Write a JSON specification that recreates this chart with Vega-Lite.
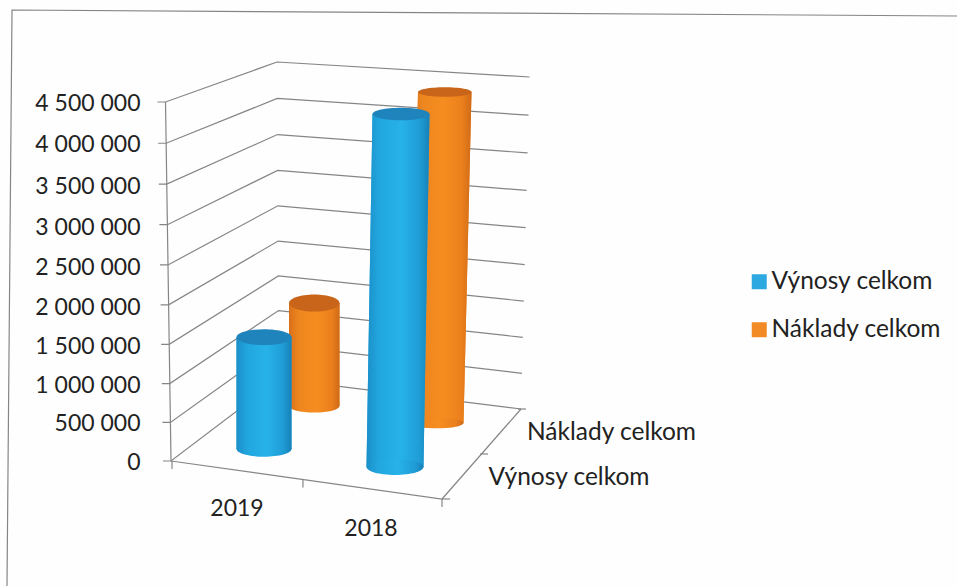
{
"$schema":"https://vega.github.io/schema/vega-lite/v6.json",
"width":957,"height":586,"autosize":"none","padding":0,"background":"#fefefe",
"config":{"view":{"stroke":null},"font":"Lato"},
"datasets":{
"bars":[
{"year":"2019","series":"Výnosy celkom","value":1430000},
{"year":"2019","series":"Náklady celkom","value":1400000},
{"year":"2018","series":"Výnosy celkom","value":4420000},
{"year":"2018","series":"Náklady celkom","value":4400000}],
"ticks":[{"tick":0},{"tick":500000},{"tick":1000000},{"tick":1500000},{"tick":2000000},{"tick":2500000},{"tick":3000000},{"tick":3500000},{"tick":4000000},{"tick":4500000}],
"edges":[
{"part":"floor","corner":"front","tick":0,"seq":0},{"part":"floor","corner":"near","tick":0,"seq":1},{"part":"floor","corner":"right","tick":0,"seq":2},
{"part":"wall axis","corner":"front","tick":0,"seq":0},{"part":"wall axis","corner":"front","tick":4500000,"seq":1},
{"part":"outer","corner":"tr","tick":0,"seq":0},{"part":"outer","corner":"tl","tick":0,"seq":1},{"part":"outer","corner":"bl","tick":0,"seq":2}],
"frontTicks":[{"u":0},{"u":0.485},{"u":1}],
"sideTicks":[{"v":0},{"v":0.5},{"v":1}]
},
"resolve":{"scale":{"x":"independent","y":"independent"},"axis":{"x":"independent","y":"independent"}},
"layer":[
{"data":{"name":"ticks"},
 "mark":{"type":"point","opacity":0},
 "encoding":{"x":{"value":150},
  "y":{"field":"tick","type":"quantitative","scale":{"domain":[0,500000,1000000,1500000,2000000,2500000,3000000,3500000,4000000,4500000],"range":[461,422,384,345,306,266,226,185,143,102]},
   "axis":{"orient":"left","offset":-150,"title":null,"domain":false,"ticks":false,"grid":false,"values":[0,500000,1000000,1500000,2000000,2500000,3000000,3500000,4000000,4500000],"labelFont":"Lato","labelFontSize":23,"labelColor":"#222222","labelPadding":10,"labelOffset":1.5,"labelOverlap":false,"labelBound":false,"labelFlush":false,"labelExpr":"replace(format(datum.value,','),/,/g,' ')","encode":{"labels":{"update":{"dx":{"signal":"(4500000-datum.value)/4500000*7"}}}}}}}},
{"transform":[
  {"calculate":"datum.tick/4500000","as":"t"},
  {"calculate":"datum.t*0.963/(1-0.037*datum.t)","as":"f"},
  {"calculate":"({front:[171,165.5,461,102],right:[521,529.5,409,77],near:[442,442,499,499],tl:[12,12,10,10],tr:[957,957,16,16],bl:[7,7,586,586]})[datum.corner]","as":"c"},
  {"calculate":"datum.c[0]+(datum.c[1]-datum.c[0])*datum.f","as":"px"},
  {"calculate":"datum.c[2]+(datum.c[3]-datum.c[2])*datum.f","as":"py"}],
 "data":{"name":"edges"},
 "encoding":{
  "x":{"field":"px","type":"quantitative","axis":null,"scale":{"domain":[0,957],"range":[0,957],"nice":false,"zero":false}},
  "y":{"field":"py","type":"quantitative","axis":null,"scale":{"domain":[0,586],"range":[0,586],"nice":false,"zero":false}},
  "detail":{"field":"part"},"order":{"field":"seq"}},
 "mark":{"type":"line","color":"#858585","strokeWidth":1.2}},
{"data":{"name":"ticks"},
 "transform":[
  {"calculate":"[0,1,2,3]","as":"seq"},{"flatten":["seq"]},
  {"calculate":"datum.tick/4500000","as":"t"},
  {"calculate":"datum.t*0.963/(1-0.037*datum.t)","as":"f"},
  {"calculate":"[[163,157.5,461,102],[171,165.5,461,102],[279,277,379,62],[521,529.5,409,77]][datum.seq]","as":"c"},
  {"calculate":"datum.c[0]+(datum.c[1]-datum.c[0])*datum.f","as":"px"},
  {"calculate":"datum.c[2]+(datum.c[3]-datum.c[2])*datum.f","as":"py"}],
 "encoding":{
  "x":{"field":"px","type":"quantitative","axis":null,"scale":{"domain":[0,957],"range":[0,957],"nice":false,"zero":false}},
  "y":{"field":"py","type":"quantitative","axis":null,"scale":{"domain":[0,586],"range":[0,586],"nice":false,"zero":false}},
  "detail":{"field":"tick"},"order":{"field":"seq"}},
 "mark":{"type":"line","color":"#858585","strokeWidth":1.2}},
{"data":{"name":"frontTicks"},
 "transform":[{"calculate":"172+270*datum.u","as":"px"},{"calculate":"461+38*datum.u","as":"py"}],
 "encoding":{
  "x":{"field":"px","type":"quantitative","axis":null,"scale":{"domain":[0,957],"range":[0,957],"nice":false,"zero":false}},
  "y":{"field":"py","type":"quantitative","axis":null,"scale":{"domain":[0,586],"range":[0,586],"nice":false,"zero":false}}},
 "mark":{"type":"point","shape":"M0,0V1","size":256,"filled":false,"stroke":"#858585","strokeWidth":1.2,"opacity":1}},
{"data":{"name":"sideTicks"},
 "transform":[{"calculate":"442+76*datum.v","as":"px"},{"calculate":"499-90*datum.v","as":"py"}],
 "encoding":{
  "x":{"field":"px","type":"quantitative","axis":null,"scale":{"domain":[0,957],"range":[0,957],"nice":false,"zero":false}},
  "y":{"field":"py","type":"quantitative","axis":null,"scale":{"domain":[0,586],"range":[0,586],"nice":false,"zero":false}}},
 "mark":{"type":"point","shape":"M0,0H1","size":256,"filled":false,"stroke":"#858585","strokeWidth":1.2,"opacity":1}},

{"data":{"name":"bars"},
 "transform":[{"filter":"datum.year=='2019' && datum.series=='Náklady celkom'"},{"calculate":"[0,datum.value]","as":"h"},{"flatten":["h"]}],
 "encoding":{
  "x":{"field":"h","type":"quantitative","axis":null,"stack":null,"scale":{"domain":[0,4500000],"range":[289,289],"nice":false,"zero":false}},
  "y":{"field":"h","type":"quantitative","axis":null,"stack":null,"scale":{"domain":[0,4500000],"range":[406,75],"nice":false,"zero":false}}},
 "layer":[
  {"mark":{"type":"area","orient":"horizontal","x2Offset":50.5},"encoding":{"x2":{"field":"h"},"color":{"field":"series","type":"nominal","scale":{"domain":["Výnosy celkom","Náklady celkom"],"range":["#2ea8e0","#f28a25"]},"legend":{"orient":"none","legendX":747,"legendY":269.5,"title":null,"symbolType":"square","symbolSize":225,"symbolOpacity":1,"symbolStrokeWidth":0,"labelFont":"Lato","labelFontSize":24.5,"labelColor":"#222222","labelOffset":0,"labelLimit":300,"rowPadding":23}}}},
  {"mark":{"type":"area","orient":"horizontal","x2Offset":50.5,"fill":{"gradient":"linear","x1":0,"y1":0,"x2":1,"y2":0,"stops":[{"offset":0,"color":"#d9701a"},{"offset":0.2,"color":"#ee861f"},{"offset":0.55,"color":"#f68d20"},{"offset":0.85,"color":"#ea7f1c"},{"offset":1,"color":"#cf6a17"}]}},"encoding":{"x2":{"field":"h"}}},
  {"transform":[{"filter":"datum.h==0"}],"mark":{"type":"point","filled":true,"opacity":1,"xOffset":25.25,"size":2550,"shape":"M-1,0A1,0.26 0 1 0 1,0A1,0.26 0 1 0 -1,0Z","fill":{"gradient":"linear","x1":0,"y1":0,"x2":1,"y2":0,"stops":[{"offset":0,"color":"#d9701a"},{"offset":0.2,"color":"#ee861f"},{"offset":0.55,"color":"#f68d20"},{"offset":0.85,"color":"#ea7f1c"},{"offset":1,"color":"#cf6a17"}]}}},
  {"transform":[{"filter":"datum.h>0"}],"mark":{"type":"point","filled":true,"opacity":1,"xOffset":25.25,"size":2550,"shape":"M-1,0A1,0.34 0 1 0 1,0A1,0.34 0 1 0 -1,0Z","fill":"#c8651a"}}
 ]},

{"data":{"name":"bars"},
 "transform":[{"filter":"datum.year=='2019' && datum.series=='Výnosy celkom'"},{"calculate":"[0,datum.value]","as":"h"},{"flatten":["h"]}],
 "encoding":{
  "x":{"field":"h","type":"quantitative","axis":null,"stack":null,"scale":{"domain":[0,4500000],"range":[236.5,236.5],"nice":false,"zero":false}},
  "y":{"field":"h","type":"quantitative","axis":null,"stack":null,"scale":{"domain":[0,4500000],"range":[449,97],"nice":false,"zero":false}}},
 "layer":[
  {"mark":{"type":"area","orient":"horizontal","x2Offset":55},"encoding":{"x2":{"field":"h"},"color":{"field":"series","type":"nominal","scale":{"domain":["Výnosy celkom","Náklady celkom"],"range":["#2ea8e0","#f28a25"]},"legend":{"orient":"none","legendX":747,"legendY":269.5,"title":null,"symbolType":"square","symbolSize":225,"symbolOpacity":1,"symbolStrokeWidth":0,"labelFont":"Lato","labelFontSize":24.5,"labelColor":"#222222","labelOffset":0,"labelLimit":300,"rowPadding":23}}}},
  {"mark":{"type":"area","orient":"horizontal","x2Offset":55,"fill":{"gradient":"linear","x1":0,"y1":0,"x2":1,"y2":0,"stops":[{"offset":0,"color":"#1b8fc8"},{"offset":0.2,"color":"#22a6de"},{"offset":0.55,"color":"#27b2ea"},{"offset":0.85,"color":"#1f9cd5"},{"offset":1,"color":"#1781b8"}]}},"encoding":{"x2":{"field":"h"}}},
  {"transform":[{"filter":"datum.h==0"}],"mark":{"type":"point","filled":true,"opacity":1,"xOffset":27.5,"size":3025,"shape":"M-1,0A1,0.28 0 1 0 1,0A1,0.28 0 1 0 -1,0Z","fill":{"gradient":"linear","x1":0,"y1":0,"x2":1,"y2":0,"stops":[{"offset":0,"color":"#1b8fc8"},{"offset":0.2,"color":"#22a6de"},{"offset":0.55,"color":"#27b2ea"},{"offset":0.85,"color":"#1f9cd5"},{"offset":1,"color":"#1781b8"}]}}},
  {"transform":[{"filter":"datum.h>0"}],"mark":{"type":"point","filled":true,"opacity":1,"xOffset":27.5,"size":3025,"shape":"M-1,0A1,0.29 0 1 0 1,0A1,0.29 0 1 0 -1,0Z","fill":"#1f83bc"}}
 ]},

{"data":{"name":"bars"},
 "transform":[{"filter":"datum.year=='2018' && datum.series=='Náklady celkom'"},{"calculate":"[0,datum.value]","as":"h"},{"flatten":["h"]}],
 "encoding":{
  "x":{"field":"h","type":"quantitative","axis":null,"stack":null,"scale":{"domain":[0,4500000],"range":[410,418.2],"nice":false,"zero":false}},
  "y":{"field":"h","type":"quantitative","axis":null,"stack":null,"scale":{"domain":[0,4500000],"range":[423,84.5],"nice":false,"zero":false}}},
 "layer":[
  {"mark":{"type":"area","orient":"horizontal","x2Offset":53.5},"encoding":{"x2":{"field":"h"},"color":{"field":"series","type":"nominal","scale":{"domain":["Výnosy celkom","Náklady celkom"],"range":["#2ea8e0","#f28a25"]},"legend":{"orient":"none","legendX":747,"legendY":269.5,"title":null,"symbolType":"square","symbolSize":225,"symbolOpacity":1,"symbolStrokeWidth":0,"labelFont":"Lato","labelFontSize":24.5,"labelColor":"#222222","labelOffset":0,"labelLimit":300,"rowPadding":23}}}},
  {"mark":{"type":"area","orient":"horizontal","x2Offset":53.5,"fill":{"gradient":"linear","x1":0,"y1":0,"x2":1,"y2":0,"stops":[{"offset":0,"color":"#d9701a"},{"offset":0.2,"color":"#ee861f"},{"offset":0.55,"color":"#f68d20"},{"offset":0.85,"color":"#ea7f1c"},{"offset":1,"color":"#cf6a17"}]}},"encoding":{"x2":{"field":"h"}}},
  {"transform":[{"filter":"datum.h==0"}],"mark":{"type":"point","filled":true,"opacity":1,"xOffset":26.75,"size":2862,"shape":"M-1,0A1,0.2 0 1 0 1,0A1,0.2 0 1 0 -1,0Z","fill":{"gradient":"linear","x1":0,"y1":0,"x2":1,"y2":0,"stops":[{"offset":0,"color":"#d9701a"},{"offset":0.2,"color":"#ee861f"},{"offset":0.55,"color":"#f68d20"},{"offset":0.85,"color":"#ea7f1c"},{"offset":1,"color":"#cf6a17"}]}}},
  {"transform":[{"filter":"datum.h>0"}],"mark":{"type":"point","filled":true,"opacity":1,"xOffset":26.75,"size":2862,"shape":"M-1,0A1,0.18 0 1 0 1,0A1,0.18 0 1 0 -1,0Z","fill":"#c8651a"}}
 ]},

{"data":{"name":"bars"},
 "transform":[{"filter":"datum.year=='2018' && datum.series=='Výnosy celkom'"},{"calculate":"[0,datum.value]","as":"h"},{"flatten":["h"]}],
 "encoding":{
  "x":{"field":"h","type":"quantitative","axis":null,"stack":null,"scale":{"domain":[0,4500000],"range":[366.5,372.6],"nice":false,"zero":false}},
  "y":{"field":"h","type":"quantitative","axis":null,"stack":null,"scale":{"domain":[0,4500000],"range":[467,107.6],"nice":false,"zero":false}}},
 "layer":[
  {"mark":{"type":"area","orient":"horizontal","x2Offset":57},"encoding":{"x2":{"field":"h"},"color":{"field":"series","type":"nominal","scale":{"domain":["Výnosy celkom","Náklady celkom"],"range":["#2ea8e0","#f28a25"]},"legend":{"orient":"none","legendX":747,"legendY":269.5,"title":null,"symbolType":"square","symbolSize":225,"symbolOpacity":1,"symbolStrokeWidth":0,"labelFont":"Lato","labelFontSize":24.5,"labelColor":"#222222","labelOffset":0,"labelLimit":300,"rowPadding":23}}}},
  {"mark":{"type":"area","orient":"horizontal","x2Offset":57,"fill":{"gradient":"linear","x1":0,"y1":0,"x2":1,"y2":0,"stops":[{"offset":0,"color":"#1b8fc8"},{"offset":0.2,"color":"#22a6de"},{"offset":0.55,"color":"#27b2ea"},{"offset":0.85,"color":"#1f9cd5"},{"offset":1,"color":"#1781b8"}]}},"encoding":{"x2":{"field":"h"}}},
  {"transform":[{"filter":"datum.h==0"}],"mark":{"type":"point","filled":true,"opacity":1,"xOffset":28.5,"size":3249,"shape":"M-1,0A1,0.28 0 1 0 1,0A1,0.28 0 1 0 -1,0Z","fill":{"gradient":"linear","x1":0,"y1":0,"x2":1,"y2":0,"stops":[{"offset":0,"color":"#1b8fc8"},{"offset":0.2,"color":"#22a6de"},{"offset":0.55,"color":"#27b2ea"},{"offset":0.85,"color":"#1f9cd5"},{"offset":1,"color":"#1781b8"}]}}},
  {"transform":[{"filter":"datum.h>0"}],"mark":{"type":"point","filled":true,"opacity":1,"xOffset":28.5,"size":3249,"shape":"M-1,0A1,0.22 0 1 0 1,0A1,0.22 0 1 0 -1,0Z","fill":"#1f83bc"}}
 ]},

{"data":{"name":"bars"},
 "transform":[{"filter":"datum.series=='Výnosy celkom'"}],
 "mark":{"type":"text","font":"Lato","fontSize":23,"color":"#222222","align":"center","baseline":"middle"},
 "encoding":{
  "x":{"field":"year","type":"nominal","axis":null,"scale":{"type":"point","padding":0,"domain":["2019","2018"],"range":[237,371]}},
  "y":{"field":"year","type":"nominal","axis":null,"scale":{"type":"point","padding":0,"domain":["2019","2018"],"range":[509,529]}},
  "text":{"field":"year"}}},
{"data":{"name":"bars"},
 "transform":[{"filter":"datum.year=='2019'"}],
 "mark":{"type":"text","font":"Lato","fontSize":24.5,"color":"#222222","align":"center","baseline":"middle"},
 "encoding":{
  "x":{"field":"series","type":"nominal","axis":null,"scale":{"type":"point","padding":0,"domain":["Výnosy celkom","Náklady celkom"],"range":[569,611.5]}},
  "y":{"field":"series","type":"nominal","axis":null,"scale":{"type":"point","padding":0,"domain":["Výnosy celkom","Náklady celkom"],"range":[478,433]}},
  "text":{"field":"series"}}}
]}
